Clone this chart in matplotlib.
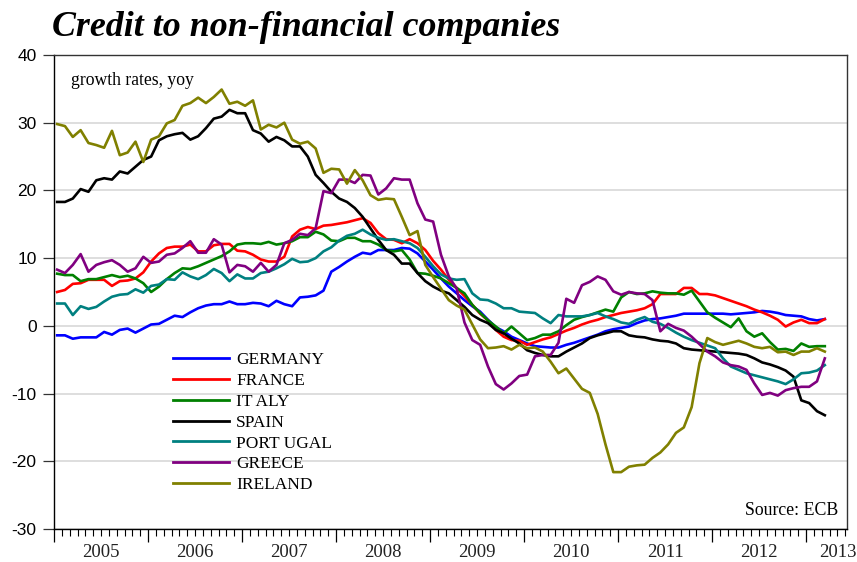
import numpy as np
import matplotlib
matplotlib.use("Agg")
import matplotlib.pyplot as plt
from matplotlib.ticker import FixedLocator
import matplotlib.transforms as mtransforms

plt.rcParams["axes.unicode_minus"] = False

# monthly growth rates, yoy, Jan 2005 .. Mar 2013
germany = [-1.4, -1.4, -1.9, -1.7, -1.7, -1.7, -0.9, -1.3, -0.6, -0.4, -1.0, -0.4,
           0.2, 0.3, 0.9, 1.5, 1.3, 2.0, 2.6, 3.0, 3.2, 3.2, 3.6, 3.2,
           3.2, 3.4, 3.3, 2.9, 3.7, 3.2, 2.9, 4.2, 4.3, 4.5, 5.2, 8.0,
           8.7, 9.5, 10.2, 10.8, 10.6, 11.2, 11.2, 11.2, 11.5, 11.4, 10.7, 9.5,
           8.3, 7.0, 5.8, 4.8, 3.8, 2.9, 2.1, 0.9, -0.2, -0.8, -1.6, -2.1,
           -2.6, -3.0, -3.1, -3.2, -3.2, -2.8, -2.5, -2.1, -1.7, -1.3, -0.8, -0.5,
           -0.3, -0.1, 0.4, 0.8, 1.0, 1.1, 1.3, 1.5, 1.8, 1.8, 1.8, 1.8,
           1.8, 1.8, 1.7, 1.8, 1.9, 2.0, 2.2, 2.1, 1.9, 1.6, 1.5, 1.4,
           1.0, 0.8, 1.0]
france = [5.0, 5.3, 6.2, 6.3, 6.8, 6.8, 6.8, 5.9, 6.6, 6.7, 7.0, 7.9,
          9.5, 10.7, 11.5, 11.7, 11.7, 12.0, 11.0, 11.0, 11.9, 12.1, 12.1, 11.1,
          11.0, 10.5, 9.8, 9.5, 9.5, 10.2, 13.2, 14.2, 14.6, 14.3, 14.8, 14.9,
          15.1, 15.3, 15.6, 15.9, 15.2, 13.7, 12.8, 12.7, 12.2, 12.8, 12.2, 11.2,
          9.6, 8.3, 6.8, 5.6, 4.4, 3.1, 1.8, 0.8, -0.6, -1.6, -2.1, -2.2,
          -2.8, -2.4, -2.0, -1.7, -1.2, -0.7, -0.3, 0.2, 0.6, 0.9, 1.3, 1.6,
          1.9, 2.1, 2.3, 2.6, 3.2, 4.7, 4.7, 4.7, 5.6, 5.6, 4.7, 4.7,
          4.5, 4.1, 3.7, 3.3, 2.9, 2.4, 2.0, 1.5, 0.9, -0.1, 0.5, 0.9,
          0.4, 0.4, 1.0]
italy = [7.7, 7.5, 7.5, 6.6, 6.9, 6.9, 7.2, 7.5, 7.2, 7.4, 7.0, 6.3,
         5.0, 5.8, 6.9, 7.8, 8.5, 8.4, 8.8, 9.3, 9.8, 10.3, 11.0, 12.0,
         12.2, 12.2, 12.1, 12.4, 12.0, 12.2, 12.5, 13.1, 13.1, 13.9, 13.5, 12.6,
         12.5, 13.0, 13.0, 12.5, 12.5, 12.0, 11.2, 11.0, 11.2, 9.8, 7.8, 7.7,
         7.4, 7.0, 6.3, 5.6, 4.8, 3.1, 1.9, 0.8, -0.1, -1.1, -0.1, -1.1,
         -2.1, -1.8, -1.3, -1.3, -0.8, 0.1, 0.9, 1.3, 1.6, 2.0, 2.4, 2.1,
         4.2, 5.0, 4.7, 4.8, 5.1, 4.9, 4.8, 4.8, 4.6, 5.2, 3.6, 2.0,
         1.2, 0.5, -0.2, 1.1, -0.8, -1.6, -1.1, -2.4, -3.5, -3.4, -3.7, -2.6,
         -3.1, -3.0, -3.0]
spain = [18.3, 18.3, 18.8, 20.2, 19.8, 21.5, 21.8, 21.6, 22.8, 22.5, 23.5, 24.5,
         25.0, 27.4, 28.0, 28.3, 28.5, 27.5, 28.0, 29.2, 30.6, 30.9, 31.9, 31.4,
         31.4, 28.9, 28.4, 27.2, 27.9, 27.4, 26.5, 26.5, 25.0, 22.3, 21.1, 19.8,
         18.8, 18.3, 17.4, 16.1, 14.4, 12.7, 11.2, 10.5, 9.2, 9.2, 7.8, 6.6,
         5.8, 5.2, 4.8, 3.8, 2.8, 1.6, 0.9, 0.4, -0.6, -1.1, -1.9, -2.6,
         -3.6, -4.0, -4.3, -4.5, -4.5, -3.8, -3.2, -2.6, -1.8, -1.4, -1.1, -0.8,
         -0.8, -1.4, -1.6, -1.7, -2.0, -2.2, -2.3, -2.6, -3.3, -3.5, -3.6, -3.7,
         -3.8, -3.9, -4.0, -4.1, -4.3, -4.8, -5.4, -5.7, -6.1, -6.6, -7.5, -11.0,
         -11.4, -12.6, -13.2]
portugal = [3.3, 3.3, 1.6, 2.9, 2.5, 2.8, 3.6, 4.3, 4.6, 4.7, 5.4, 4.9,
            5.9, 6.1, 6.9, 6.8, 7.9, 7.3, 6.9, 7.5, 8.4, 7.8, 6.6, 7.6,
            7.0, 7.0, 7.8, 8.0, 8.5, 9.1, 9.9, 9.4, 9.5, 10.0, 11.0, 11.6,
            12.6, 13.3, 13.6, 14.2, 13.5, 13.0, 12.7, 12.8, 12.5, 12.2, 11.5, 10.2,
            8.8, 7.6, 7.0, 6.8, 6.9, 4.8, 3.9, 3.8, 3.3, 2.6, 2.6, 2.1,
            2.0, 1.9, 1.1, 0.4, 1.6, 1.4, 1.4, 1.4, 1.6, 1.9, 1.4, 1.0,
            0.5, 0.3, 0.9, 1.3, 0.6, 0.3, -0.3, -1.0, -1.6, -2.1, -2.5, -2.9,
            -3.3, -4.8, -6.0, -6.5, -7.0, -7.3, -7.6, -7.9, -8.2, -8.6, -7.9, -7.0,
            -6.9, -6.6, -5.8]
greece = [8.3, 7.8, 9.0, 10.6, 8.0, 9.0, 9.4, 9.7, 9.0, 8.0, 8.5, 10.2,
          9.3, 9.5, 10.5, 10.7, 11.5, 12.5, 10.8, 10.8, 12.8, 12.0, 7.9, 9.0,
          8.8, 8.0, 9.3, 8.0, 9.0, 12.2, 12.7, 13.6, 13.4, 14.4, 19.9, 19.6,
          21.6, 21.6, 21.1, 22.3, 22.2, 19.4, 20.3, 21.8, 21.6, 21.6, 18.1, 15.7,
          15.4, 10.5, 7.3, 5.5, 0.5, -2.1, -2.8, -6.0, -8.6, -9.4, -8.5, -7.4,
          -7.2, -4.5, -4.3, -4.3, -2.5, 4.0, 3.4, 6.0, 6.5, 7.3, 6.8, 5.1,
          4.6, 5.0, 4.8, 4.7, 3.8, -0.8, 0.3, -0.3, -0.7, -1.6, -2.7, -3.8,
          -4.5, -5.4, -5.8, -6.0, -6.5, -8.5, -10.2, -9.9, -10.3, -9.5, -9.2, -9.0,
          -9.0, -8.2, -4.8]
ireland = [29.8, 29.5, 27.9, 28.9, 27.0, 26.7, 26.3, 28.8, 25.2, 25.6, 27.2, 24.2,
           27.5, 28.0, 29.9, 30.4, 32.5, 32.9, 33.7, 32.9, 33.8, 34.9, 32.8, 33.1,
           32.5, 33.3, 29.0, 29.7, 29.3, 30.0, 27.5, 26.9, 27.2, 26.2, 22.6, 23.2,
           23.1, 21.0, 23.0, 21.5, 19.3, 18.6, 18.8, 18.7, 16.1, 13.4, 14.0, 9.0,
           7.2, 5.5, 3.8, 3.0, 2.4, 0.2, -2.0, -3.3, -3.2, -3.0, -3.5, -2.8,
           -3.3, -3.2, -3.8, -5.3, -7.0, -6.3, -7.8, -9.3, -9.9, -13.0, -17.5, -21.6,
           -21.6, -20.8, -20.6, -20.5, -19.5, -18.7, -17.5, -15.8, -15.0, -12.0, -5.5, -1.8,
           -2.4, -2.8, -2.5, -2.2, -2.6, -3.1, -3.3, -3.1, -3.9, -3.8, -4.3, -3.8,
           -3.8, -3.3, -3.8]

names = ["GERMANY", "FRANCE", "IT ALY", "SPAIN", "PORT UGAL", "GREECE", "IRELAND"]
colors = ["#0000ff", "#ff0000", "#008000", "#000000", "#008080", "#800080", "#808000"]
series = [germany, france, italy, spain, portugal, greece, ireland]
years = list(range(2005, 2014))

t = 2005 + (np.arange(len(germany)) + 0.4) / 12.0

serif = "Liberation Serif"
sans = "Liberation Sans"

fig = plt.figure(figsize=(8.57, 5.62), dpi=100)
ax = fig.add_axes([54 / 857, 33 / 562, 793 / 857, 474 / 562])

for vals, c, n in zip(series, colors, names):
    ax.plot(t, vals, color=c, lw=1.9, label=n, solid_joinstyle="round")

ax.set_xlim(2005, 2013.436)
ax.set_ylim(-30, 40)
ax.set_yticks(range(-30, 41, 10))
ax.yaxis.grid(True, color="#d4d4d4", lw=1.1)
ax.set_axisbelow(True)
ax.tick_params(axis="y", direction="out", length=8, width=0.9, labelsize=12.5, pad=4.5,
               color="#333333")
for lab in ax.get_yticklabels():
    lab.set_fontfamily(sans)

ax.xaxis.set_major_locator(FixedLocator(years))
ax.xaxis.set_minor_locator(FixedLocator([2005 + k / 12 for k in range(0, 102)]))
ax.tick_params(axis="x", which="major", direction="out", length=9, width=0.9, labelbottom=False)
ax.tick_params(axis="x", which="minor", direction="out", length=5, width=0.8)

trans = mtransforms.blended_transform_factory(ax.transData, ax.transAxes)
for y in years[:-1]:
    ax.text(y + 0.5, -0.049, str(y), transform=trans, ha="center", va="center",
            fontsize=13.5, fontfamily=serif, color="#222222")
ax.text(2013.34, -0.049, "2013", transform=trans, ha="center", va="center",
        fontsize=13.5, fontfamily=serif, color="#222222", clip_on=False)

for side in ["left", "bottom"]:
    ax.spines[side].set_color("black")
    ax.spines[side].set_linewidth(1.0)
for side in ["top", "right"]:
    ax.spines[side].set_color("#333333")
    ax.spines[side].set_linewidth(1.0)

ax.text(0.022, 0.965, "growth rates, yoy", transform=ax.transAxes, ha="left", va="top",
        fontsize=12.7, fontfamily=serif)
ax.text(0.989, 0.022, "Source: ECB", transform=ax.transAxes, ha="right", va="bottom",
        fontsize=12.8, fontfamily=serif)

leg = ax.legend(loc="upper left", bbox_to_anchor=(173 / 857, 1 - 352 / 562),
                bbox_transform=fig.transFigure, frameon=False,
                handlelength=3.2, handletextpad=0.45, labelspacing=0.27,
                borderpad=0, borderaxespad=0, prop={"family": serif, "size": 12.5})
for line in leg.get_lines():
    line.set_linewidth(2.0)

fig.text(52 / 857, 1 - 36 / 562, "Credit to non-financial companies", ha="left",
         va="baseline", fontsize=25.8, fontfamily=serif, fontweight="bold", fontstyle="italic")

fig.savefig("out.png", dpi=100)
